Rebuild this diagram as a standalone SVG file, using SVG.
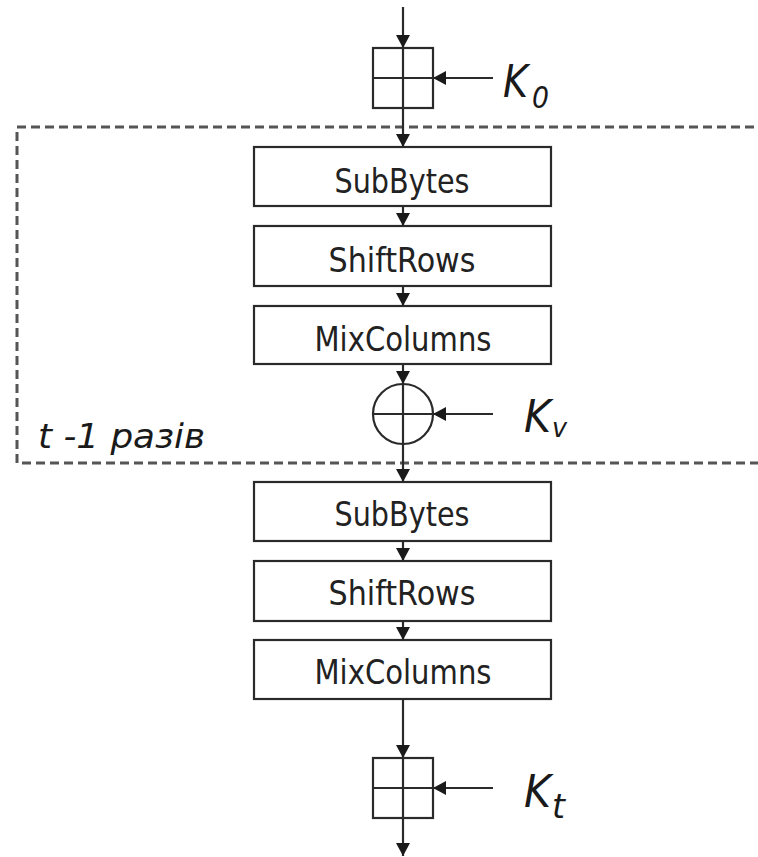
<svg xmlns="http://www.w3.org/2000/svg" width="758" height="857" viewBox="0 0 758 857">
  <style>
    .box { fill: #fff; stroke: #2a2a2a; stroke-width: 2.2; }
    .ln { stroke: #2a2a2a; stroke-width: 2.2; fill: none; }
    .lbl { font-family: "DejaVu Sans", "Liberation Sans", sans-serif; font-size: 33px; fill: #222; text-anchor: middle; }
    .key { font-family: "DejaVu Sans", "Liberation Sans", sans-serif; font-style: italic; fill: #1a1a1a; }
    .loop { fill: none; stroke: #555; stroke-width: 3; stroke-dasharray: 9 5; }
  </style>
  <defs>
    <marker id="arr" viewBox="0 0 13 16" refX="13" refY="8" markerWidth="13" markerHeight="16" markerUnits="userSpaceOnUse" orient="auto">
      <path d="M0,1 L13,8 L0,15 Z" fill="#1a1a1a"/>
    </marker>
  </defs>
  <rect width="758" height="857" fill="#fff"/>

  <!-- repeated round frame -->
  <g id="loop">
    <rect class="loop" x="17" y="127" width="770" height="336"/>
    <text class="key" x="38" y="448" font-size="34" textLength="167" lengthAdjust="spacingAndGlyphs">t -1 разів</text>
  </g>

  <!-- connectors -->
  <g id="connectors">
    <line class="ln" x1="403" y1="7" x2="403" y2="48" marker-end="url(#arr)"/>
    <line class="ln" x1="493" y1="78" x2="433" y2="78" marker-end="url(#arr)"/>
    <line class="ln" x1="403" y1="108" x2="403" y2="147" marker-end="url(#arr)"/>
    <line class="ln" x1="403" y1="206" x2="403" y2="226" marker-end="url(#arr)"/>
    <line class="ln" x1="403" y1="286" x2="403" y2="306" marker-end="url(#arr)"/>
    <line class="ln" x1="403" y1="364" x2="403" y2="384" marker-end="url(#arr)"/>
    <line class="ln" x1="493" y1="414" x2="433" y2="414" marker-end="url(#arr)"/>
    <line class="ln" x1="403" y1="444" x2="403" y2="482" marker-end="url(#arr)"/>
    <line class="ln" x1="403" y1="541" x2="403" y2="561" marker-end="url(#arr)"/>
    <line class="ln" x1="403" y1="621" x2="403" y2="640" marker-end="url(#arr)"/>
    <line class="ln" x1="403" y1="699" x2="403" y2="758" marker-end="url(#arr)"/>
    <line class="ln" x1="493" y1="788" x2="433" y2="788" marker-end="url(#arr)"/>
    <line class="ln" x1="403" y1="818" x2="403" y2="856" marker-end="url(#arr)"/>
  </g>

  <!-- initial key addition -->
  <g id="addkey0">
    <rect class="box" x="373" y="48" width="60" height="60"/>
    <line class="ln" x1="373" y1="78" x2="433" y2="78"/>
    <line class="ln" x1="403" y1="48" x2="403" y2="108"/>
    <text class="key" x="503" y="97" font-size="44" textLength="25" lengthAdjust="spacingAndGlyphs">K</text>
    <text class="key" x="532" y="108" font-size="31" textLength="17" lengthAdjust="spacingAndGlyphs">0</text>
  </g>

  <g id="subbytes1">
    <rect class="box" x="254" y="147" width="297" height="59"/>
    <text class="lbl" x="402" y="193" textLength="135" lengthAdjust="spacingAndGlyphs">SubBytes</text>
  </g>
  <g id="shiftrows1">
    <rect class="box" x="254" y="226" width="297" height="60"/>
    <text class="lbl" x="402" y="272" textLength="147" lengthAdjust="spacingAndGlyphs">ShiftRows</text>
  </g>
  <g id="mixcolumns1">
    <rect class="box" x="254" y="306" width="297" height="58"/>
    <text class="lbl" x="403" y="351" textLength="177" lengthAdjust="spacingAndGlyphs">MixColumns</text>
  </g>

  <!-- round key XOR -->
  <g id="xor">
    <circle class="box" cx="403" cy="414" r="30"/>
    <line class="ln" x1="373" y1="414" x2="433" y2="414"/>
    <line class="ln" x1="403" y1="384" x2="403" y2="444"/>
    <text class="key" x="524" y="432" font-size="44" textLength="27" lengthAdjust="spacingAndGlyphs">K</text>
    <text class="key" x="552" y="437" font-size="26" textLength="15" lengthAdjust="spacingAndGlyphs">v</text>
  </g>

  <g id="subbytes2">
    <rect class="box" x="254" y="482" width="297" height="59"/>
    <text class="lbl" x="402" y="526" textLength="135" lengthAdjust="spacingAndGlyphs">SubBytes</text>
  </g>
  <g id="shiftrows2">
    <rect class="box" x="254" y="561" width="297" height="60"/>
    <text class="lbl" x="402" y="605" textLength="147" lengthAdjust="spacingAndGlyphs">ShiftRows</text>
  </g>
  <g id="mixcolumns2">
    <rect class="box" x="254" y="640" width="297" height="59"/>
    <text class="lbl" x="403" y="684" textLength="177" lengthAdjust="spacingAndGlyphs">MixColumns</text>
  </g>

  <!-- final key addition -->
  <g id="addkeyt">
    <rect class="box" x="373" y="758" width="60" height="60"/>
    <line class="ln" x1="373" y1="788" x2="433" y2="788"/>
    <line class="ln" x1="403" y1="758" x2="403" y2="818"/>
    <text class="key" x="524" y="807" font-size="44" textLength="27" lengthAdjust="spacingAndGlyphs">K</text>
    <text class="key" x="552" y="818" font-size="33" textLength="13" lengthAdjust="spacingAndGlyphs">t</text>
  </g>
</svg>
